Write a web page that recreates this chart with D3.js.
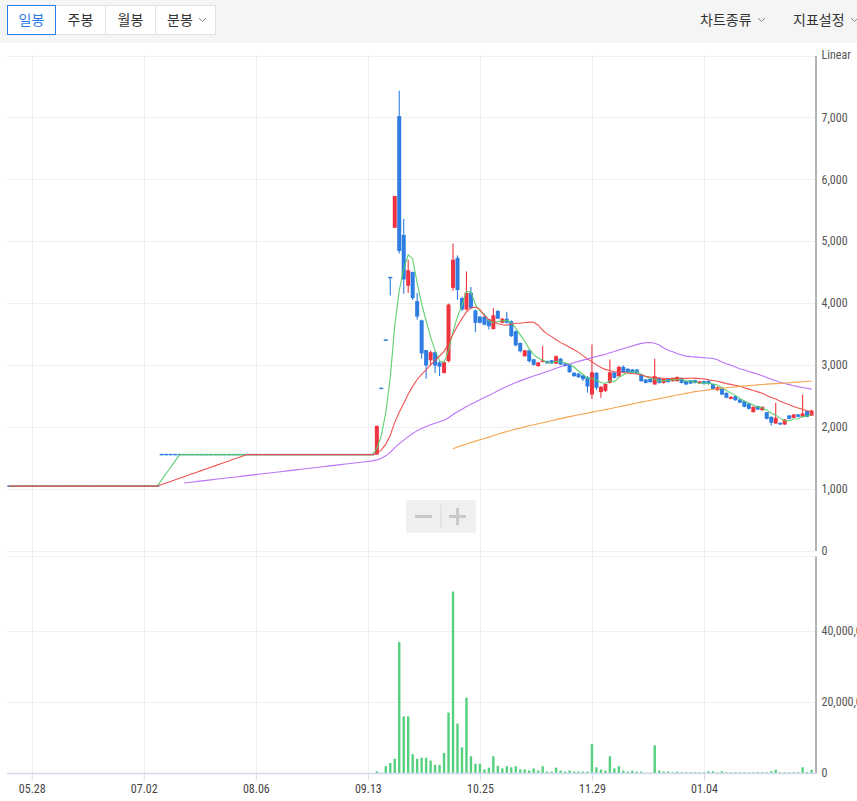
<!DOCTYPE html>
<html><head><meta charset="utf-8">
<script src="https://cdn.jsdelivr.net/npm/d3@7"></script>
<style>
html,body{margin:0;padding:0;background:#fff;}
svg{display:block;}
</style></head><body>
<svg id="c" width="857" height="801"></svg>
<script>
// ---------------- DATA ----------------
// 20 bars precede the visible window (used only for moving averages)
const hiddenBars = 20;
const periodButtons = ["일봉", "주봉", "월봉", "분봉"];
const menuItems = ["차트종류", "지표설정"];
const tickBars = [5, 30, 55, 80, 105, 130, 155];
const tickLabels = ["05.28", "07.02", "08.06", "09.13", "10.25", "11.29", "01.04"];
const priceTicks = [0, 1000, 2000, 3000, 4000, 5000, 6000, 7000];
const volumeTicks = [0, 20000000, 40000000];
const maPeriods = [5, 20, 60, 120];

const opens = [
1040,1040,1040,1040,1040,1040,1040,1040,1040,1040,
1040,1040,1040,1040,1040,1040,1040,1040,1040,1040,
1040,1040,1040,1040,1040,1040,1040,1040,1040,1040,
1040,1040,1040,1040,1040,1040,1040,1040,1040,1040,
1040,1040,1040,1040,1040,1040,1040,1040,1040,1040,
1040,1040,1040,1040,1550,1550,1550,1550,1550,1550,
1550,1550,1550,1550,1550,1550,1550,1550,1550,1550,
1550,1550,1550,1550,1550,1550,1550,1550,1550,1550,
1550,1550,1550,1550,1550,1550,1550,1550,1550,1550,
1550,1550,1550,1550,1550,1550,1550,1550,1550,1550,
1550,1550,1550,2620,3400,4410,5215,7020,5100,4280,
4500,4030,3720,3240,3075,3205,3040,2870,3060,4245,
4730,4080,3895,4165,3880,3780,3780,3735,3580,3870,
3680,3745,3705,3545,3355,3140,3235,3090,2980,3050,
3060,3075,3022,3100,3020,3006,2872,2860,2830,2800,
2520,2872,2560,2580,2710,2880,2817,2968,2936,2925,
2925,2844,2763,2774,2683,2790,2709,2774,2736,2736,
2790,2736,2752,2752,2700,2736,2740,2690,2590,2630,
2548,2450,2494,2440,2413,2376,2236,2333,2268,2236,
2161,2053,2064,2037,2182,2144,2198,2161,2252,2180];
const highs = [
1040,1040,1040,1040,1040,1040,1040,1040,1040,1040,
1040,1040,1040,1040,1040,1040,1040,1040,1040,1040,
1040,1040,1040,1040,1040,1040,1040,1040,1040,1040,
1040,1040,1040,1040,1040,1040,1040,1040,1040,1040,
1040,1040,1040,1040,1040,1040,1040,1040,1040,1040,
1040,1040,1040,1040,1550,1550,1550,1550,1550,1550,
1550,1550,1550,1550,1550,1550,1550,1550,1550,1550,
1550,1550,1550,1550,1550,1550,1550,1550,1550,1550,
1550,1550,1550,1550,1550,1550,1550,1550,1550,1550,
1550,1550,1550,1550,1550,1550,1550,1550,1550,1550,
1550,1550,2015,2620,3400,4410,5730,7430,5360,4700,
4510,4160,3730,3240,3230,3220,3060,3060,3990,4960,
4770,4100,4510,4260,3895,3790,3790,3740,3920,3890,
3760,3860,3720,3550,3360,3240,3240,3095,3045,3310,
3070,3080,3150,3110,3030,3010,2880,2865,2840,2817,
3330,2880,2660,2700,3087,2885,2980,2990,2945,2935,
2930,2850,2770,2780,3098,2800,2780,2780,2795,2810,
2795,2740,2755,2760,2740,2745,2760,2695,2650,2635,
2555,2495,2500,2450,2420,2380,2330,2340,2330,2240,
2165,2387,2070,2125,2190,2205,2205,2521,2260,2275];
const lows = [
1040,1040,1040,1040,1040,1040,1040,1040,1040,1040,
1040,1040,1040,1040,1040,1040,1040,1040,1040,1040,
1040,1040,1040,1040,1040,1040,1040,1040,1040,1040,
1040,1040,1040,1040,1040,1040,1040,1040,1040,1040,
1040,1040,1040,1040,1040,1040,1040,1040,1040,1040,
1040,1040,1040,1040,1550,1550,1550,1550,1550,1550,
1550,1550,1550,1550,1550,1550,1550,1550,1550,1550,
1550,1550,1550,1550,1550,1550,1550,1550,1550,1550,
1550,1550,1550,1550,1550,1550,1550,1550,1550,1550,
1550,1550,1550,1550,1550,1550,1550,1550,1550,1550,
1550,1550,1550,2620,3400,4120,5215,4800,4150,4160,
4050,3730,3100,2775,2990,2870,2820,2860,3040,4200,
4050,3870,3880,3900,3530,3670,3640,3570,3570,3740,
3670,3670,3450,3300,3200,3130,3040,2990,2970,3040,
3020,3015,3015,3000,2975,2875,2810,2790,2740,2550,
2450,2600,2470,2560,2700,2780,2810,2870,2875,2865,
2855,2730,2700,2715,2680,2700,2700,2715,2730,2730,
2700,2675,2690,2700,2695,2680,2680,2600,2585,2510,
2460,2445,2420,2380,2315,2280,2230,2270,2260,2120,
2020,2045,2030,2030,2120,2140,2155,2155,2155,2175];
const closes = [
1040,1040,1040,1040,1040,1040,1040,1040,1040,1040,
1040,1040,1040,1040,1040,1040,1040,1040,1040,1040,
1040,1040,1040,1040,1040,1040,1040,1040,1040,1040,
1040,1040,1040,1040,1040,1040,1040,1040,1040,1040,
1040,1040,1040,1040,1040,1040,1040,1040,1040,1040,
1040,1040,1040,1040,1550,1550,1550,1550,1550,1550,
1550,1550,1550,1550,1550,1550,1550,1550,1550,1550,
1550,1550,1550,1550,1550,1550,1550,1550,1550,1550,
1550,1550,1550,1550,1550,1550,1550,1550,1550,1550,
1550,1550,1550,1550,1550,1550,1550,1550,1550,1550,
1550,1550,2015,2620,3400,4405,5730,4840,4380,4530,
4080,3780,3185,2990,3205,2990,2970,3045,3975,4700,
4210,3895,4165,3920,3680,3680,3650,3625,3800,3745,
3745,3680,3465,3315,3220,3235,3060,3000,3040,3060,
3025,3022,3140,3006,2980,2880,2817,2800,2770,2650,
2880,2630,2645,2690,2880,2790,2968,2880,2882,2871,
2860,2736,2709,2720,2817,2709,2774,2720,2790,2806,
2709,2683,2698,2709,2736,2698,2690,2610,2640,2520,
2468,2480,2429,2390,2322,2290,2322,2279,2322,2128,
2064,2144,2037,2117,2128,2198,2161,2214,2161,2260];
const volumes = [
0,0,0,0,0,0,0,0,0,0,
0,0,0,0,0,0,0,0,0,0,
0,0,0,0,0,0,0,0,0,0,
0,0,0,0,0,0,0,0,0,0,
0,0,0,0,0,0,0,0,0,0,
0,0,0,0,0,0,0,0,0,0,
0,0,0,0,0,0,0,0,0,0,
0,0,0,0,0,0,0,0,0,0,
0,0,0,0,0,0,0,0,0,0,
0,0,0,0,0,0,0,0,0,0,
0,0,500000,100000,1900000,2800000,4000000,36800000,15900000,15900000,
5300000,4000000,4300000,4300000,3500000,2300000,2300000,5600000,17000000,51000000,
13900000,7200000,21200000,4700000,2600000,2600000,1000000,1500000,4700000,2000000,
1300000,1900000,1600000,1900000,1000000,1000000,700000,1300000,700000,1900000,
400000,400000,1500000,700000,400000,700000,400000,400000,400000,400000,
8100000,1600000,1000000,700000,4700000,1300000,1900000,700000,400000,700000,
400000,400000,100000,100000,7800000,700000,400000,400000,200000,400000,
200000,200000,200000,200000,200000,200000,500000,500000,200000,500000,
200000,200000,200000,200000,200000,200000,200000,200000,200000,200000,
500000,900000,200000,200000,200000,200000,200000,1600000,300000,900000];

// ---------------- STYLE ----------------
const UP = "#ef3340", DOWN = "#2d7de2", VOL = "#55d07f";
const MA_COLORS = ["#55cc66", "#ef4a4a", "#b66cf6", "#f4a047"];
const NUM_FONT = "'Liberation Sans Narrow','Arial Narrow','Roboto Condensed',sans-serif";
const KR_FONT = "'Noto Sans CJK KR','Noto Sans',sans-serif";

const W = 857, H = 801;
const svg = d3.select("#c");

// ---------------- TOOLBAR ----------------
svg.append("rect").attr("x",0).attr("y",0).attr("width",W).attr("height",43).attr("fill","#f5f5f5");
const btnEdges = [7, 55, 105, 155, 215];
const tb = svg.append("g");
periodButtons.forEach((t,i)=>{
  const x0 = btnEdges[i], x1 = btnEdges[i+1];
  tb.append("rect").attr("x",x0+0.5).attr("y",5.5).attr("width",x1-x0).attr("height",29)
    .attr("fill","#fff").attr("stroke","#e2e2e2");
});
periodButtons.forEach((t,i)=>{
  const x0 = btnEdges[i], x1 = btnEdges[i+1];
  const sel = i===0;
  const cx = i===3 ? x0+25 : (x0+x1)/2+0.5;
  tb.append("text").attr("x",cx).attr("y",25).attr("text-anchor","middle")
    .attr("font-family",KR_FONT).attr("font-size",14).attr("fill", sel?"#2b7de8":"#333").text(t);
  if(sel) tb.append("rect").attr("x",x0+0.5).attr("y",5.5).attr("width",x1-x0).attr("height",29)
    .attr("fill","none").attr("stroke","#2b7de8");
});
function chevron(x,y){
  tb.append("path").attr("d",`M${x},${y} L${x+3.5},${y+3.5} L${x+7},${y}`)
    .attr("fill","none").attr("stroke","#888").attr("stroke-width",1);
}
chevron(199,18);
const menuX = [700, 793];
menuItems.forEach((t,i)=>{
  tb.append("text").attr("x",menuX[i]).attr("y",25).attr("font-family",KR_FONT)
    .attr("font-size",14).attr("fill","#333").text(t);
  chevron(menuX[i]+58,18);
});

// ---------------- SCALES ----------------
const nVisible = closes.length - hiddenBars;
const x = d3.scaleLinear().domain([0, nVisible-1]).range([9.3, 9.3 + (nVisible-1)*4.482]);
const yP = d3.scaleLinear().domain([0, 8000]).range([550.5, 55.5]);
const yV = d3.scaleLinear().domain([0, 61000000]).range([773, 556]);
const plotL = 7, plotR = 815;

// ---------------- GRID ----------------
const grid = svg.append("g");
grid.selectAll(".hg").data(priceTicks.concat([8000])).join("line")
  .attr("x1",plotL).attr("x2",plotR).attr("y1",d=>Math.round(yP(d))+0.5).attr("y2",d=>Math.round(yP(d))+0.5)
  .attr("stroke","#efefef");
grid.selectAll(".vg").data(volumeTicks.concat([61000000])).join("line")
  .attr("x1",plotL).attr("x2",plotR).attr("y1",d=>Math.round(yV(d))+0.5).attr("y2",d=>Math.round(yV(d))+0.5)
  .attr("stroke","#efefef");
grid.selectAll(".xg").data(tickBars).join("line")
  .attr("x1",d=>Math.round(x(d))+0.5).attr("x2",d=>Math.round(x(d))+0.5).attr("y1",55).attr("y2",773)
  .attr("stroke","#f0f0f3");

// ---------------- PLOT ----------------
svg.append("clipPath").attr("id","clip").append("rect")
  .attr("x",plotL).attr("y",55).attr("width",plotR-plotL).attr("height",720);
const plot = svg.append("g").attr("clip-path","url(#clip)");

const bars = d3.range(nVisible).map(i=>{
  const k = i + hiddenBars;
  return {i, o:opens[k], h:highs[k], l:lows[k], c:closes[k], v:volumes[k]};
});

// volume
const vw = 2.4;
plot.selectAll(".vol").data(bars.filter(d=>d.v>0)).join("rect")
  .attr("x",d=>x(d.i)-vw/2).attr("width",vw)
  .attr("y",d=>yV(d.v)).attr("height",d=>yV(0)-yV(d.v)).attr("fill",VOL);

// candles
const cw = 4;
const cg = plot.append("g");
cg.selectAll(".wick").data(bars.filter(d=>d.h>d.l)).join("line")
  .attr("x1",d=>x(d.i)).attr("x2",d=>x(d.i))
  .attr("y1",d=>yP(d.h)).attr("y2",d=>yP(d.l))
  .attr("stroke",d=>d.c>d.o?UP:DOWN).attr("stroke-width",1.1);
cg.selectAll(".body").data(bars).join("rect")
  .attr("x",d=>x(d.i)-cw/2).attr("width",cw)
  .attr("y",d=>Math.min(yP(d.o),yP(d.c)) - (Math.abs(yP(d.o)-yP(d.c))<1.5?0.75:0))
  .attr("height",d=>Math.max(1.5, Math.abs(yP(d.o)-yP(d.c))))
  .attr("fill",d=>d.c>d.o?UP:DOWN);

// moving averages
maPeriods.forEach((p,mi)=>{
  const pts = [];
  for(let k=0;k<closes.length;k++){
    if(k<p-1) continue;
    const i = k - hiddenBars;
    if(i<0) continue;
    pts.push({i, v:d3.mean(closes.slice(k-p+1,k+1))});
  }
  plot.append("path").datum(pts)
    .attr("d",d3.line().x(d=>x(d.i)).y(d=>yP(d.v)))
    .attr("fill","none").attr("stroke",MA_COLORS[mi]).attr("stroke-width",1.1)
    .attr("stroke-opacity",0.95);
});

// ---------------- AXES ----------------
const axP = svg.append("g").attr("transform",`translate(${plotR+0.5},0)`)
  .call(d3.axisRight(yP).tickValues(priceTicks).tickSize(0).tickSizeOuter(0).tickPadding(6)
    .tickFormat(d3.format(",")));
axP.select(".domain").attr("stroke","#666");
axP.selectAll("text").attr("font-family",NUM_FONT).attr("font-size",12).attr("fill","#555");
svg.append("text").attr("x",plotR+6.5).attr("y",yP(8000)).attr("dy","0.32em")
  .attr("font-family",NUM_FONT).attr("font-size",12).attr("fill","#555").text("Linear");

const axV = svg.append("g").attr("transform",`translate(${plotR+0.5},0)`)
  .call(d3.axisRight(yV).tickValues(volumeTicks).tickSize(0).tickSizeOuter(0).tickPadding(6)
    .tickFormat(d3.format(",")));
axV.select(".domain").attr("stroke","#666");
axV.selectAll("text").attr("font-family",NUM_FONT).attr("font-size",12).attr("fill","#555");

const axX = svg.append("g").attr("transform","translate(0,773.5)")
  .call(d3.axisBottom(x).tickValues(tickBars).tickSize(7).tickSizeOuter(0).tickPadding(4)
    .tickFormat((d,i)=>tickLabels[i]));
axX.select(".domain").attr("d",`M${plotL},0H${plotR}`).attr("stroke","#d3d9ee").attr("stroke-width",1.5);
axX.selectAll(".tick line").attr("stroke","#d3d9ee");
axX.selectAll("text").attr("font-family",NUM_FONT).attr("font-size",12).attr("fill","#444");

// ---------------- ZOOM CONTROL ----------------
const zc = svg.append("g");
zc.append("rect").attr("x",406).attr("y",500).attr("width",70).attr("height",33).attr("rx",3).attr("fill","#efefef");
zc.append("line").attr("x1",415).attr("x2",432).attr("y1",516.5).attr("y2",516.5).attr("stroke","#c9c9c9").attr("stroke-width",3);
zc.append("line").attr("x1",441).attr("x2",441).attr("y1",505).attr("y2",528).attr("stroke","#d8d8d8");
zc.append("line").attr("x1",449).attr("x2",466).attr("y1",516.5).attr("y2",516.5).attr("stroke","#c9c9c9").attr("stroke-width",3);
zc.append("line").attr("x1",457.5).attr("x2",457.5).attr("y1",508).attr("y2",525).attr("stroke","#c9c9c9").attr("stroke-width",3);
</script>
</body></html>
